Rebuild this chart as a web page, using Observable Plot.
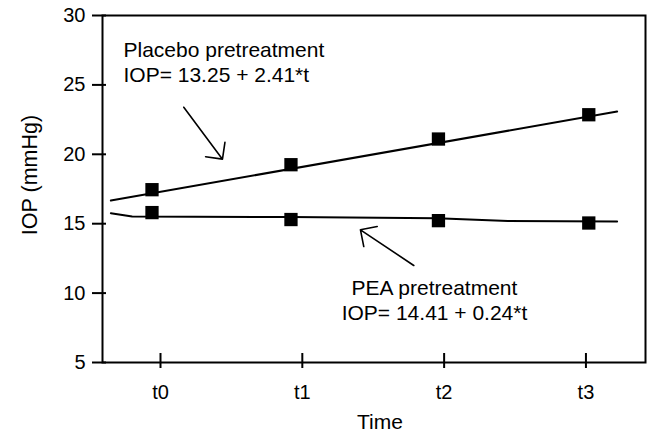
<!DOCTYPE html>
<html><head><meta charset="utf-8">
<script src="https://cdn.jsdelivr.net/npm/d3@7"></script>
<script src="https://cdn.jsdelivr.net/npm/@observablehq/plot@0.6"></script>
<style>body{margin:0;background:#fff} #chart svg{display:block}</style>
</head><body><div id="chart"></div>
<script>
// ---- data ----
const timeLabels = ["t0", "t1", "t2", "t3"];
const timeTicks = [0, 1, 2, 3];
const yTicks = [5, 10, 15, 20, 25, 30];
const markerTime = [-0.06, 0.92, 1.96, 3.02];
const placeboIOP = [17.45, 19.25, 21.1, 22.85];
const peaIOP = [15.8, 15.3, 15.22, 15.05];
const placeboFitTime = [-0.35, 3.22];
const placeboFitIOP = [16.67, 23.08];
const peaFitTime = [-0.35, -0.2, 0.92, 1.95, 2.45, 3.22];
const peaFitIOP = [15.76, 15.52, 15.48, 15.4, 15.2, 15.15];
const placeboLabel = ["Placebo pretreatment", "IOP= 13.25 + 2.41*t"];
const peaLabel = ["PEA pretreatment", "IOP= 14.41 + 0.24*t"];
const yTitle = "IOP (mmHg)";
const xTitle = "Time";

// ---- annotation anchors (data space) ----
const placeboText = placeboLabel.map((s, i) => ({s, t: -0.261, v: [27.46, 25.66][i]}));
const peaText = peaLabel.map((s, i) => ({s, t: 1.932, v: [10.32, 8.52][i]}));
const arrows = [
  {x1: 0.164, y1: 23.39, x2: 0.437, y2: 19.65},
  {x1: 1.786, y1: 11.99, x2: 1.41, y2: 14.56}
];

const zip = (ts, vs) => ts.map((t, i) => ({t, v: vs[i]}));
const font = "'Liberation Sans', Arial, Helvetica, sans-serif";

const chart = Plot.plot({
  width: 647,
  height: 432,
  marginLeft: 102,
  marginRight: 2,
  marginTop: 15,
  marginBottom: 70,
  style: {fontFamily: font, fontSize: "20px", color: "#000", background: "#fff"},
  x: {domain: [-0.409, 3.42]},
  y: {domain: [5, 30]},
  marks: [
    Plot.axisY({ticks: yTicks, tickSize: 10, tickPadding: 7, strokeWidth: 2, fontSize: 20, label: null}),
    Plot.axisY({ticks: yTicks, tickSize: -4, strokeWidth: 2, fill: "none", label: null}),
    Plot.axisX({ticks: timeTicks, tickSize: 6, tickPadding: 16, strokeWidth: 2, fontSize: 20,
      tickFormat: (d) => timeLabels[timeTicks.indexOf(d)], label: null}),
    Plot.axisX({ticks: timeTicks, tickSize: -9, strokeWidth: 2, fill: "none", label: null}),
    Plot.frame({strokeWidth: 2}),
    Plot.line(zip(placeboFitTime, placeboFitIOP), {x: "t", y: "v", stroke: "#000", strokeWidth: 2}),
    Plot.line(zip(peaFitTime, peaFitIOP), {x: "t", y: "v", stroke: "#000", strokeWidth: 2}),
    Plot.dot(zip(markerTime, placeboIOP), {x: "t", y: "v", symbol: "square", r: 7.5, fill: "#000", stroke: null}),
    Plot.dot(zip(markerTime, peaIOP), {x: "t", y: "v", symbol: "square", r: 7.5, fill: "#000", stroke: null}),
    Plot.arrow(arrows, {x1: "x1", y1: "y1", x2: "x2", y2: "y2", headAngle: 90, headLength: 16, strokeWidth: 1.6, stroke: "#000"}),
    Plot.text(placeboText, {x: "t", y: "v", text: "s", textAnchor: "start", lineAnchor: "middle", fontSize: 21, fill: "#000"}),
    Plot.text(peaText, {x: "t", y: "v", text: "s", textAnchor: "middle", lineAnchor: "middle", fontSize: 21, fill: "#000"}),
    Plot.text([yTitle], {frameAnchor: "left", dx: -72, dy: -14, rotate: -90, text: (d) => d, fontSize: 21.5, fill: "#000", textAnchor: "middle", lineAnchor: "middle"}),
    Plot.text([xTitle], {frameAnchor: "bottom", dx: 6, dy: 60, text: (d) => d, fontSize: 21, fill: "#000", textAnchor: "middle", lineAnchor: "middle"})
  ]
});
document.getElementById("chart").appendChild(chart);
</script>
</body></html>
